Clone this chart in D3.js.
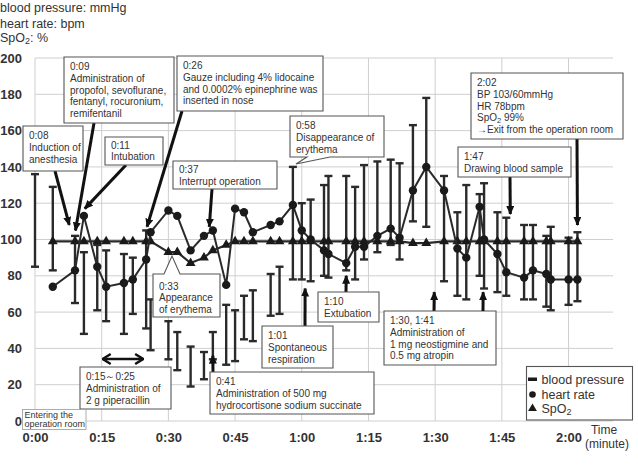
<!DOCTYPE html>
<meta charset="utf-8">
<script src="https://d3js.org/d3.v7.min.js"></script>
<style>
body { margin: 0; background: #fff; }
svg text { font-family: Arial, "Liberation Sans", sans-serif; fill: #333; }
.note { font-size: 10px; }
.axis text { font-size: 13px; font-weight: bold; fill: #333; }
.title { font-size: 12.5px; }
.legend { font-size: 12.5px; }
</style>
<div id="chart"></div>
<script>

// blood pressure: systolic (cap on top) / diastolic (cap at bottom), minutes after entering the room
var bpTime = [0, 4, 9, 11, 14, 16, 20, 22, 25, 26, 30, 32, 35, 38, 40, 43, 45, 47, 49, 53, 55, 58, 60, 62,
              65, 66, 70, 72, 74, 77, 80, 82, 85, 88, 92, 95, 97, 100, 101, 104, 106, 110, 112, 115, 116, 120, 122];
var bpHigh = [136, 129, 102, 93, 97, 94, 92, 90, 105, 67, 55, 49, 41, 38, 49, 64, 61, 69, 72, 81, 85, 140, 120, 122,
              130, 135, 135, 129, 141, 143, 144, 142, 163, 178, 135, 115, 130, 125, 131, 115, 112, 108, 108, 102, 107, 101, 104];
var bpLow = [85, 83, 65, 48, 61, 55, 48, 59, 51, 39, 34, 28, 19, 23, 34, 31, 33, 45, 44, 58, 59, 78, 78, 77,
             80, 79, 83, 78, 89, 93, 97, 89, 110, 107, 77, 69, 67, 80, 73, 71, 69, 67, 67, 63, 61, 64, 66];

// heart rate and SpO2, same time points
var vitalTime = [4, 9, 11, 14, 16, 20, 22, 25, 26, 30, 32, 35, 38, 40, 43, 45, 47, 49, 53, 55, 58, 60, 62,
                 65, 66, 70, 72, 74, 77, 80, 82, 85, 88, 92, 95, 97, 100, 101, 104, 106, 110, 112, 115, 116, 120, 122];
var heartRate = [74, 83, 113, 85, 74, 76, 78, 89, 104, 116, 113, 94, 102, 105, 75, 117, 115, 104, 108, 110, 119, 105, 100,
                 94, 92, 87, 96, 96, 102, 106, 101, 127, 140, 127, 95, 90, 118, 100, 92, 82, 79, 83, 81, 78, 78, 78];
var spo2 = [99, 99, 99, 99, 99, 99, 99, 99, 99, 93, 93, 87, 90, 94, 97, 99, 99, 99, 99, 99, 99, 99, 99,
            99, 99, 99, 99, 99, 99, 99, 99, 98, 98, 99, 99, 99, 99, 99, 99, 99, 99, 99, 99, 99, 99, 99];

var yTicks = [0, 20, 40, 60, 80, 100, 120, 140, 160, 180, 200];
var xTicks = [0, 15, 30, 45, 60, 75, 90, 105, 120];
var xTickLabels = ["0:00", "0:15", "0:30", "0:45", "1:00", "1:15", "1:30", "1:45", "2:00"];

var width = 638, height = 466;

var svg = d3.select("#chart")
  .append("svg")
    .attr("width", width)
    .attr("height", height);

var x = d3.scaleLinear().domain([0, 130]).range([35, 613]);
var y = d3.scaleLinear().domain([0, 200]).range([421, 58]);

// grid
svg.append("g").selectAll("line").data(yTicks).enter().append("line")
  .attr("x1", x(0)).attr("x2", x(130))
  .attr("y1", d => y(d)).attr("y2", d => y(d))
  .attr("stroke", "#cfcfcf").attr("stroke-width", 1);
svg.append("g").selectAll("line").data(xTicks).enter().append("line")
  .attr("x1", d => x(d)).attr("x2", d => x(d))
  .attr("y1", y(0)).attr("y2", y(200))
  .attr("stroke", "#cfcfcf").attr("stroke-width", 1);

// axes (labels only)
var yAxis = svg.append("g").attr("class", "axis")
  .attr("transform", "translate(" + x(0) + ",0)")
  .call(d3.axisLeft(y).tickValues(yTicks).tickSize(0).tickPadding(13));
yAxis.select(".domain").remove();

var xAxis = svg.append("g").attr("class", "axis")
  .attr("transform", "translate(0," + y(0) + ")")
  .call(d3.axisBottom(x).tickValues(xTicks).tickSize(0).tickPadding(12)
    .tickFormat((d, i) => xTickLabels[i]));
xAxis.select(".domain").remove();

svg.append("text").attr("x", 604).attr("y", 434).attr("text-anchor", "middle")
  .style("font-size", "12px").text("Time");
svg.append("text").attr("x", 607).attr("y", 448).attr("text-anchor", "middle")
  .style("font-size", "12px").text("(minute)");

// unit title
var title = svg.append("g").attr("class", "title");
title.append("text").attr("x", 0).attr("y", 12).text("blood pressure: mmHg");
title.append("text").attr("x", 0).attr("y", 27.5).text("heart rate: bpm");
var t3 = title.append("text").attr("x", 0).attr("y", 42);
t3.append("tspan").text("SpO");
t3.append("tspan").attr("dy", 2).style("font-size", "9px").text("2");
t3.append("tspan").attr("dy", -2).text(": %");

// blood pressure bars
var bp = bpTime.map((t, i) => ({t: t, hi: bpHigh[i], lo: bpLow[i]}));
var bars = svg.append("g").attr("stroke", "#2a2a2a").attr("stroke-width", 2.4);
bars.selectAll(".stem").data(bp).enter().append("line")
  .attr("x1", d => x(d.t)).attr("x2", d => x(d.t))
  .attr("y1", d => y(d.hi)).attr("y2", d => y(d.lo));
bars.selectAll(".capHi").data(bp).enter().append("line")
  .attr("x1", d => x(d.t) - 4).attr("x2", d => x(d.t) + 4)
  .attr("y1", d => y(d.hi)).attr("y2", d => y(d.hi));
bars.selectAll(".capLo").data(bp).enter().append("line")
  .attr("x1", d => x(d.t) - 4).attr("x2", d => x(d.t) + 4)
  .attr("y1", d => y(d.lo)).attr("y2", d => y(d.lo));

// SpO2
var sp = vitalTime.map((t, i) => ({t: t, v: spo2[i]}));
svg.append("path").datum(sp)
  .attr("fill", "none").attr("stroke", "#2a2a2a").attr("stroke-width", 2.2)
  .attr("d", d3.line().x(d => x(d.t)).y(d => y(d.v)));
svg.append("g").selectAll("path").data(sp).enter().append("path")
  .attr("transform", d => "translate(" + x(d.t) + "," + y(d.v) + ")")
  .attr("d", d3.symbol(d3.symbolTriangle).size(42))
  .attr("fill", "#1a1a1a");

// heart rate
var hr = vitalTime.map((t, i) => ({t: t, v: heartRate[i]}));
svg.append("path").datum(hr)
  .attr("fill", "none").attr("stroke", "#2a2a2a").attr("stroke-width", 2)
  .attr("d", d3.line().x(d => x(d.t)).y(d => y(d.v)));
svg.append("g").selectAll("circle").data(hr).enter().append("circle")
  .attr("cx", d => x(d.t)).attr("cy", d => y(d.v)).attr("r", 4.2)
  .attr("fill", "#1a1a1a");

// arrow heads
var defs = svg.append("defs");
defs.append("marker").attr("id", "head")
  .attr("markerUnits", "userSpaceOnUse")
  .attr("viewBox", "0 0 9 8").attr("markerWidth", 9).attr("markerHeight", 8)
  .attr("refX", 8).attr("refY", 4).attr("orient", "auto")
  .append("path").attr("d", "M0,0L9,4L0,8Z").attr("fill", "#111");
defs.append("marker").attr("id", "open")
  .attr("markerUnits", "userSpaceOnUse")
  .attr("viewBox", "0 0 10 12").attr("markerWidth", 10).attr("markerHeight", 12)
  .attr("refX", 9).attr("refY", 6).attr("orient", "auto-start-reverse")
  .append("path").attr("d", "M1,1L9,6L1,11").attr("fill", "none")
  .attr("stroke", "#111").attr("stroke-width", 2.4);

// annotations: box (pixels), lines, arrow from box edge to [minute, value]
var notes = [
  {x: 64, y: 57, w: 110, h: 66, lines: ["0:09", "Administration of", "propofol, sevoflurane,", "fentanyl, rocuronium,", "remifentanil"],
   from: [94, 123], tip: [9.1, 105]},
  {x: 23, y: 126, w: 60, h: 45, lines: ["0:08", "Induction of", "anesthesia"],
   from: [55, 171], tip: [7.7, 108]},
  {x: 105, y: 137, w: 58, h: 28, lines: ["0:11", "Intubation"], top: 8,
   from: [126, 165], tip: [11.2, 117]},
  {x: 177, y: 56, w: 146, h: 55, lines: ["0:26", "Gauze including 4% lidocaine", "and 0.0002% epinephrine was", "inserted in nose"],
   from: [182, 111], tip: [25.2, 107]},
  {x: 173, y: 161, w: 104, h: 28, lines: ["0:37", "Interrupt operation"], top: 8.5,
   from: [212, 189], tip: [39.2, 107]},
  {x: 290, y: 116, w: 94, h: 41, lines: ["0:58", "Disappearance of", "erythema"],
   bubble: {side: "bottom", b1: 307, b2: 330, tip: [296, 164]}},
  {x: 153, y: 274, w: 67, h: 43, lines: ["0:33", "Appearance", "of erythema"], top: 12,
   bubble: {side: "top", b1: 164, b2: 180, tip: [172, 256]}},
  {x: 80, y: 367, w: 91, h: 42, lines: ["0:15\uff5e0:25", "Administration of", "2 g piperacillin"]},
  {x: 210, y: 372, w: 164, h: 42, lines: ["0:41", "Administration of 500 mg", "hydrocortisone sodium succinate"],
   from: [213, 372], tip: [40, 36]},
  {x: 262, y: 326, w: 71, h: 42, lines: ["1:01", "Spontaneous", "respiration"],
   from: [305, 326], tip: [60.75, 73]},
  {x: 318, y: 292, w: 61, h: 30, lines: ["1:10", "Extubation"],
   from: [346, 292], tip: [70, 80]},
  {x: 384, y: 311, w: 112, h: 54, lines: ["1:30, 1:41", "Administration of", "1 mg neostigmine and", "0.5 mg atropin"],
   from: [434, 311], tip: [89.8, 71]},
  {x: 458, y: 147, w: 113, h: 30, lines: ["1:47", "Drawing blood sample"],
   from: [510, 177], tip: [106.9, 114]},
  {x: 471, y: 73, w: 152, h: 66, lines: ["2:02", "BP 103/60mmHg", "HR 78bpm", "SpO2 99%", "\u2192Exit from the operation room"],
   from: [577, 139], tip: [122, 108]}
];

// second arrow of the 1:30, 1:41 note
var extraArrows = [{from: [483, 311], tip: [100.8, 71]}];

var ann = svg.append("g");

notes.forEach(function(n) {
  if (n.from) {
    ann.append("line")
      .attr("x1", n.from[0]).attr("y1", n.from[1])
      .attr("x2", x(n.tip[0])).attr("y2", y(n.tip[1]))
      .attr("stroke", "#111").attr("stroke-width", 3)
      .attr("marker-end", "url(#head)");
  }
  var x0 = n.x, y0 = n.y, x1 = n.x + n.w, y1 = n.y + n.h;
  var d;
  if (n.bubble && n.bubble.side === "bottom") {
    var b = n.bubble;
    d = "M" + x0 + "," + y0 + "H" + x1 + "V" + y1 + "H" + b.b2 + "L" + b.tip[0] + "," + b.tip[1] +
        "L" + b.b1 + "," + y1 + "H" + x0 + "Z";
  } else if (n.bubble) {
    var b = n.bubble;
    d = "M" + x0 + "," + y0 + "H" + b.b1 + "L" + b.tip[0] + "," + b.tip[1] + "L" + b.b2 + "," + y0 +
        "H" + x1 + "V" + y1 + "H" + x0 + "Z";
  } else {
    d = "M" + x0 + "," + y0 + "H" + x1 + "V" + y1 + "H" + x0 + "Z";
  }
  ann.append("path").attr("d", d).attr("fill", "#fff").attr("stroke", "#555").attr("stroke-width", 1.1);

  var top = n.top !== undefined ? n.top : 9.5;
  n.lines.forEach(function(s, i) {
    var t = ann.append("text").attr("class", "note")
      .attr("x", x0 + 6).attr("y", y0 + top + 3.6 + i * 11.7);
    if (s.indexOf("SpO2") === 0) {
      t.append("tspan").text("SpO");
      t.append("tspan").attr("dy", 2).style("font-size", "7.5px").text("2");
      t.append("tspan").attr("dy", -2).text(s.slice(4));
    } else {
      t.text(s);
    }
  });
});

extraArrows.forEach(function(a) {
  ann.append("line")
    .attr("x1", a.from[0]).attr("y1", a.from[1])
    .attr("x2", x(a.tip[0])).attr("y2", y(a.tip[1]))
    .attr("stroke", "#111").attr("stroke-width", 3)
    .attr("marker-end", "url(#head)");
});

// piperacillin period 0:15 - 0:25
ann.append("line")
  .attr("x1", x(15) + 1).attr("x2", x(25) - 3)
  .attr("y1", 359).attr("y2", 359)
  .attr("stroke", "#111").attr("stroke-width", 2.4)
  .attr("marker-start", "url(#open)").attr("marker-end", "url(#open)");

// entering the room
ann.append("rect").attr("x", 22.5).attr("y", 409.5).attr("width", 63.5).attr("height", 20)
  .attr("fill", "#fff").attr("stroke", "#999").attr("stroke-width", 0.8);
ann.append("text").attr("x", 24.5).attr("y", 417.5).style("font-size", "9px").text("Entering the");
ann.append("text").attr("x", 24.5).attr("y", 427).style("font-size", "9px").text("operation room");

// legend
var lg = svg.append("g").attr("class", "legend");
lg.append("rect").attr("x", 526.5).attr("y", 366.5).attr("width", 106).attr("height", 53.5)
  .attr("fill", "#fff").attr("stroke", "#555").attr("stroke-width", 1.1);
lg.append("rect").attr("x", 528).attr("y", 377.5).attr("width", 9).attr("height", 3.5).attr("fill", "#1a1a1a");
lg.append("circle").attr("cx", 532.5).attr("cy", 394.5).attr("r", 3.3).attr("fill", "#1a1a1a");
lg.append("path").attr("transform", "translate(532.5,408.5)")
  .attr("d", d3.symbol(d3.symbolTriangle).size(34)).attr("fill", "#1a1a1a");
lg.append("text").attr("x", 541.5).attr("y", 383.5).text("blood pressure");
lg.append("text").attr("x", 541.5).attr("y", 399).text("heart rate");
var lt = lg.append("text").attr("x", 541.5).attr("y", 413);
lt.append("tspan").text("SpO");
lt.append("tspan").attr("dy", 2).style("font-size", "9px").text("2");

</script>
